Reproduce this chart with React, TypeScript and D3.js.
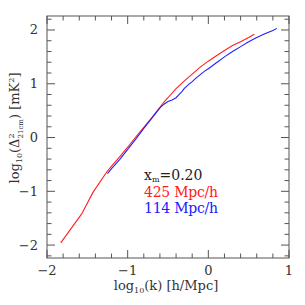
import * as React from "react";
import * as d3 from "d3";

// log10(k) [h/Mpc] vs log10(Delta^2_21cm) [mK^2]
const redK = [-1.83, -1.57, -1.43, -1.26, -1.2, -1.1, -1.0, -0.9, -0.8, -0.7, -0.6, -0.55, -0.5, -0.4, -0.3, -0.2, -0.1, 0.0, 0.1, 0.2, 0.3, 0.4, 0.5, 0.57];
const redP = [-1.96, -1.42, -1.02, -0.64, -0.53, -0.36, -0.18, 0.01, 0.19, 0.37, 0.56, 0.66, 0.74, 0.91, 1.05, 1.18, 1.31, 1.42, 1.52, 1.62, 1.71, 1.78, 1.86, 1.92];

const blueK = [-1.25, -1.2, -1.1, -1.0, -0.9, -0.8, -0.7, -0.6, -0.55, -0.5, -0.45, -0.4, -0.37, -0.33, -0.3, -0.25, -0.2, -0.15, -0.1, -0.05, 0.0, 0.1, 0.2, 0.3, 0.4, 0.5, 0.6, 0.7, 0.8, 0.85];
const blueP = [-0.67, -0.58, -0.41, -0.22, -0.03, 0.17, 0.36, 0.55, 0.62, 0.67, 0.7, 0.74, 0.79, 0.85, 0.91, 0.98, 1.04, 1.11, 1.17, 1.23, 1.28, 1.39, 1.5, 1.6, 1.69, 1.78, 1.86, 1.93, 1.99, 2.03];

const xTicks = [-2, -1, 0, 1];
const yTicks = [-2, -1, 0, 1, 2];

const FONT = "DejaVu Serif";
const FRAME = "#555";

export default function App() {
  const L = 47, R = 289, T = 16, B = 258;
  const x = d3.scaleLinear().domain([-2, 1]).range([L, R]);
  const y = d3.scaleLinear().domain([-2.24, 2.26]).range([B, T]);

  const line = d3
    .line<[number, number]>()
    .x((d) => x(d[0]))
    .y((d) => y(d[1]));

  const red = redK.map((k, i) => [k, redP[i]] as [number, number]);
  const blue = blueK.map((k, i) => [k, blueP[i]] as [number, number]);

  const xMinor = d3.range(-2, 1.0001, 0.2).map((v) => +v.toFixed(2));
  const yMinor = d3.range(-2.2, 2.2001, 0.2).map((v) => +v.toFixed(2));
  const fmt = (v: number) => (v < 0 ? "\u2212" + Math.abs(v) : String(v));

  return (
    <svg width={305} height={305} style={{ position: "absolute", left: 0, top: 0, background: "#fff" }} fontFamily={FONT}>
      <rect x={L} y={T} width={R - L} height={B - T} fill="none" stroke={FRAME} strokeWidth={1} />
      {/* ticks on all four sides */}
      {xMinor.map((v) => {
        const len = xTicks.includes(v) ? 8 : 4.5;
        return (
          <g key={"xt" + v} stroke={FRAME} strokeWidth={1}>
            <line x1={x(v)} x2={x(v)} y1={B} y2={B - len} />
            <line x1={x(v)} x2={x(v)} y1={T} y2={T + len} />
          </g>
        );
      })}
      {yMinor.map((v) => {
        const len = yTicks.includes(v) ? 8 : 4.5;
        return (
          <g key={"yt" + v} stroke={FRAME} strokeWidth={1}>
            <line x1={L} x2={L + len} y1={y(v)} y2={y(v)} />
            <line x1={R} x2={R - len} y1={y(v)} y2={y(v)} />
          </g>
        );
      })}
      {xTicks.map((v) => (
        <text key={"xl" + v} x={x(v)} y={275} textAnchor="middle" fontSize={13} fill="#333">
          {fmt(v)}
        </text>
      ))}
      {yTicks.map((v) => (
        <text key={"yl" + v} x={38} y={y(v) + 4.5} textAnchor="end" fontSize={13} fill="#333">
          {fmt(v)}
        </text>
      ))}
      {/* x title */}
      <text x={166} y={290} textAnchor="middle" fontSize={13} fill="#333">
        log
        <tspan fontSize={8} dy={3}>10</tspan>
        <tspan dy={-3}>(k) [h/Mpc]</tspan>
      </text>
      {/* y title */}
      <g transform="translate(19,128) rotate(-90)">
        <text x={0} y={0} textAnchor="middle" fontSize={13} fill="#333">
          log
          <tspan fontSize={8} dy={3}>10</tspan>
          <tspan dy={-3}>(Δ</tspan>
          <tspan fontSize={8} dy={-5}>2</tspan>
          <tspan fontSize={7} dx={-5} dy={9}>21cm</tspan>
          <tspan dy={-4}>) [mK</tspan>
          <tspan fontSize={8} dy={-5}>2</tspan>
          <tspan dy={5}>]</tspan>
        </text>
      </g>
      <path d={line(red) ?? ""} fill="none" stroke="#ff2020" strokeWidth={1.1} />
      <path d={line(blue) ?? ""} fill="none" stroke="#2020ff" strokeWidth={1.1} />
      {/* legend */}
      <text x={144} y={180} fontSize={14} fill="#222">
        x<tspan fontSize={8} dy={1.5}>m</tspan>
        <tspan dy={-1.5}>=0.20</tspan>
      </text>
      <text x={144} y={197} fontSize={14} fill="#ff2020" textLength={74} lengthAdjust="spacing">425 Mpc/h</text>
      <text x={144} y={213} fontSize={14} fill="#2020ff" textLength={74} lengthAdjust="spacing">114 Mpc/h</text>
    </svg>
  );
}
